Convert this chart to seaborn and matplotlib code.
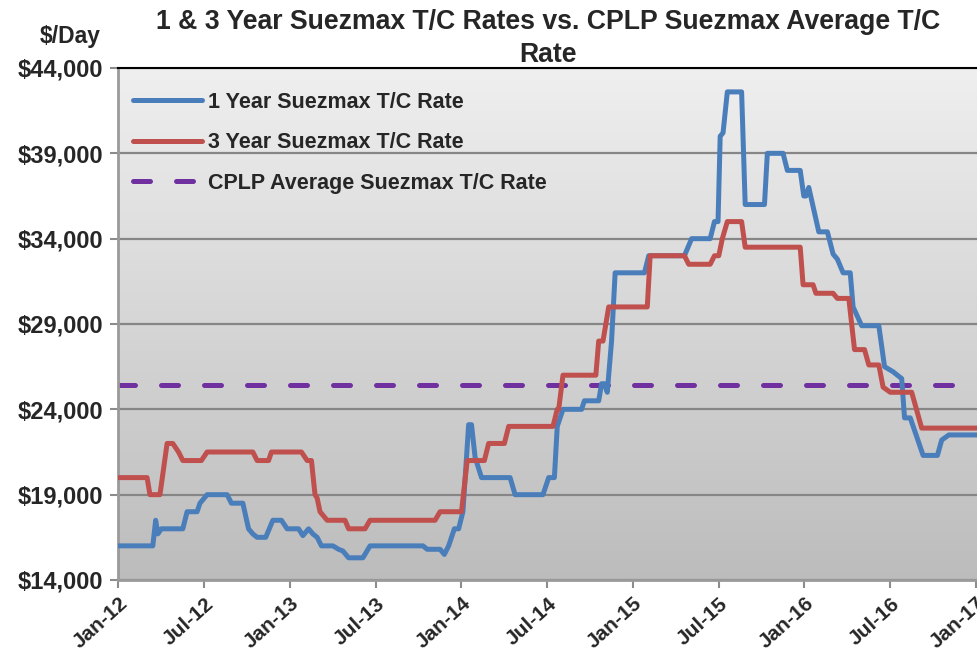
import numpy as np
import pandas as pd
import matplotlib
matplotlib.use("Agg")
import matplotlib.pyplot as plt
from matplotlib.colors import LinearSegmentedColormap
import seaborn as sns

# time axis in months counted from Jan-2012
one_year_months = [0, 2.4, 2.6, 2.75, 3.0, 4.5, 4.8, 5.5, 5.7, 6.2, 7.6, 7.9, 8.7, 9.1, 9.4,
                   9.7, 10.3, 10.8, 11.4, 11.8, 12.6, 12.9, 13.3, 13.6, 13.9, 14.2, 15.0,
                   15.4, 15.7, 16.1, 17.1, 17.6, 21.3, 21.6, 22.5, 22.8, 23.1, 23.5, 23.8,
                   24.1, 24.5, 24.7, 24.95, 25.4, 27.4, 27.75, 29.7, 30.1, 30.5, 30.7, 31.1,
                   32.4, 32.6, 33.6, 33.8, 34.0, 34.2, 34.5, 34.75, 36.8, 37.1, 39.6, 40.1,
                   41.4, 41.7, 41.95, 42.1, 42.3, 42.6, 43.6, 43.85, 45.2, 45.4, 46.5, 46.8,
                   47.7, 47.95, 48.1, 48.3, 49.0, 49.6, 50.0, 50.3, 50.7, 51.2, 51.4, 52.0,
                   53.2, 53.6, 54.2, 54.8, 55.0, 55.4, 56.3, 57.3, 57.6, 58.1, 60.2]
one_year_rates = [16000, 16000, 17500, 16700, 17000, 17000, 18000, 18000, 18500, 19000, 19000,
                  18500, 18500, 17000, 16700, 16500, 16500, 17500, 17500, 17000, 17000, 16600,
                  17000, 16700, 16500, 16000, 16000, 15800, 15700, 15300, 15300, 16000, 16000,
                  15800, 15800, 15500, 16000, 17000, 17000, 18000, 23100, 23100, 21200, 20000,
                  20000, 19000, 19000, 20000, 20000, 23000, 24000, 24000, 24500, 24500, 25500,
                  25500, 25000, 28000, 32000, 32000, 33000, 33000, 34000, 34000, 35000, 35000,
                  40000, 40200, 42600, 42600, 36000, 36000, 39000, 39000, 38000, 38000, 36500,
                  36500, 37000, 34400, 34400, 33100, 32800, 32000, 32000, 30000, 28900, 28900,
                  26500, 26200, 25800, 23500, 23500, 21300, 21300, 22200, 22500, 22500]

three_year_months = [0, 2.0, 2.2, 2.9, 3.4, 3.8, 4.2, 4.5, 5.8, 6.2, 9.4, 9.7, 10.5, 10.7,
                     12.8, 13.2, 13.5, 13.75, 13.9, 14.1, 14.6, 15.85, 16.1, 17.25, 17.6,
                     22.15, 22.5, 24.0, 24.4, 25.6, 25.9, 27.0, 27.3, 30.4, 30.7, 30.8, 31.1,
                     33.4, 33.6, 33.9, 34.3, 37.0, 37.2, 39.6, 39.9, 41.4, 41.7, 42.0, 42.25,
                     42.6, 43.6, 43.85, 47.7, 47.9, 48.6, 48.8, 50.0, 50.3, 51.1, 51.5, 52.2,
                     52.5, 53.2, 53.5, 54.0, 55.5, 56.2, 60.2]
three_year_rates = [20000, 20000, 19000, 19000, 22000, 22000, 21500, 21000, 21000, 21500,
                    21500, 21000, 21000, 21500, 21500, 21000, 21000, 19000, 18800, 18000,
                    17500, 17500, 17000, 17000, 17500, 17500, 18000, 18000, 21000, 21000,
                    22000, 22000, 23000, 23000, 24000, 24000, 26000, 26000, 28000, 28000,
                    30000, 30000, 33000, 33000, 32500, 32500, 33000, 33000, 34000, 35000,
                    35000, 33500, 33500, 31300, 31300, 30800, 30800, 30500, 30500, 27500,
                    27500, 26600, 26600, 25300, 25000, 25000, 22900, 22900]

cplp_average = 25400

tick_months = [0, 6, 12, 18, 24, 30, 36, 42, 48, 54, 60]
tick_labels = ["Jan-12", "Jul-12", "Jan-13", "Jul-13", "Jan-14", "Jul-14",
               "Jan-15", "Jul-15", "Jan-16", "Jul-16", "Jan-17"]
y_ticks = [14000, 19000, 24000, 29000, 34000, 39000, 44000]

sns.set_style("white")
plt.rcParams["font.family"] = ["Liberation Sans", "DejaVu Sans"]
plt.rcParams["font.weight"] = "bold"

fig = plt.figure(figsize=(9.78, 6.54), dpi=100)
ax = fig.add_axes([118.5 / 978, 74 / 654, 859.5 / 978, 512 / 654])

# grey gradient background of the plot area
grad = np.linspace(0, 1, 256).reshape(-1, 1)
bg_cmap = LinearSegmentedColormap.from_list("bg", ["#bcbcbc", "#efefef"])
ax.imshow(grad, extent=[0, 1, 0, 1], transform=ax.transAxes, cmap=bg_cmap,
          aspect="auto", origin="lower", zorder=0)

df1 = pd.DataFrame({"month": one_year_months, "rate": one_year_rates})
df3 = pd.DataFrame({"month": three_year_months, "rate": three_year_rates})

sns.lineplot(data=df1, x="month", y="rate", ax=ax, color="#4a7ebb", lw=3.6,
             label="1 Year Suezmax T/C Rate", estimator=None, sort=False,
             solid_capstyle="round", solid_joinstyle="round", zorder=3)
sns.lineplot(data=df3, x="month", y="rate", ax=ax, color="#c0504d", lw=3.6,
             label="3 Year Suezmax T/C Rate", estimator=None, sort=False,
             solid_capstyle="round", solid_joinstyle="round", zorder=4)
ax.axhline(cplp_average, color="#7030a0", lw=3.6, dashes=(3.4, 5.2),
           dash_capstyle="round", label="CPLP Average Suezmax T/C Rate", zorder=2)

ax.set_xlim(0, 60.14)
ax.set_ylim(14000, 44000)
ax.set_xticks(tick_months)
ax.set_xticklabels(tick_labels, rotation=42, ha="right", va="top",
                   rotation_mode="anchor", fontsize=15, fontweight="bold")
ax.set_yticks(y_ticks)
ax.set_yticklabels([f"${v:,}" for v in y_ticks], fontsize=17, fontweight="bold")
ax.set_xlabel("")
ax.set_ylabel("")

ax.set_axisbelow(True)
ax.yaxis.grid(True, color="#868686", lw=1.6)
ax.xaxis.grid(False)

ax.spines["right"].set_visible(False)
ax.spines["top"].set_color("black")
ax.spines["top"].set_linewidth(1.5)
ax.spines["left"].set_color("#9a9a9a")
ax.spines["left"].set_linewidth(2)
ax.spines["bottom"].set_color("#9a9a9a")
ax.spines["bottom"].set_linewidth(2)
ax.tick_params(axis="both", which="major", length=6, width=1.5, color="#8c8c8c",
               direction="out", left=True, bottom=True)
ax.tick_params(axis="y", pad=5)
ax.tick_params(axis="x", pad=4)

ax.legend(loc="upper left", bbox_to_anchor=(0.007, 0.97), frameon=False,
          handlelength=3.2, handletextpad=0.3, labelspacing=0.9,
          borderaxespad=0, prop={"weight": "bold", "size": 15.5})

fig.text(548 / 978, 1 - 9 / 654,
         "1 & 3 Year Suezmax T/C Rates vs. CPLP Suezmax Average T/C\nRate",
         ha="center", va="top", fontsize=19.2, fontweight="bold", linespacing=1.35)
fig.text(101 / 978, 1 - 37 / 654, "$/Day", ha="right", va="center",
         fontsize=16.5, fontweight="bold")

fig.savefig("out.png", dpi=100)
